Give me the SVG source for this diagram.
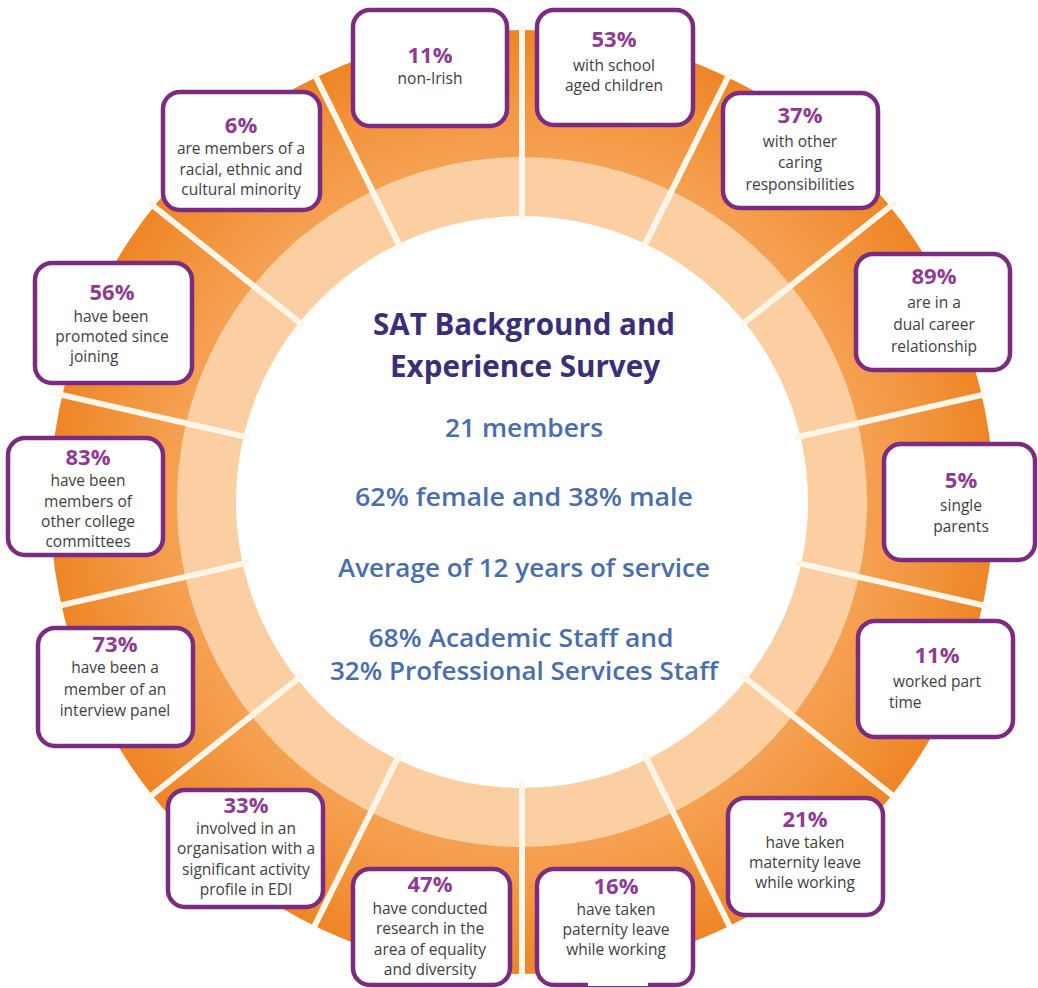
<svg xmlns="http://www.w3.org/2000/svg" width="1038" height="988" viewBox="0 0 1038 988">
<defs>
<radialGradient id="gDark" gradientUnits="userSpaceOnUse" cx="522" cy="502" r="472">
<stop offset="0.73" stop-color="#F5A152"/>
<stop offset="0.86" stop-color="#F2953E"/>
<stop offset="1" stop-color="#EE8526"/>
</radialGradient>
<style>
.box rect.frame{fill:#fff;stroke:#7B2C80;stroke-width:4.5}
.patch{fill:#fff}
text{font-family:"Open Sans","Liberation Sans",sans-serif;text-anchor:middle}
.pct{font-weight:700;font-size:22px;fill:#8E3C92}
.desc{font-size:15.5px;fill:#3E3E3E}
.title{font-weight:700;font-size:30px;fill:#3A2E78}
.stat{font-weight:600;font-size:25px;fill:#4A6DAE}
.div{stroke:#FFF6EA;stroke-width:6;stroke-linecap:butt}
</style>
</defs>
<rect width="1038" height="988" fill="#fff"/>
<g id="ring">
<circle cx="522" cy="502" r="472" fill="url(#gDark)"/>
<circle cx="522" cy="502" r="345" fill="#FBCFA1"/>
<circle cx="522" cy="502" r="286" fill="#fff"/>
</g>
<g id="connectors">
<line class="div" x1="522" y1="220" x2="522" y2="26"/>
<line class="div" x1="643.5" y1="247.7" x2="729.8" y2="73.4"/>
<line class="div" x1="740.9" y1="325.4" x2="895.7" y2="202.0"/>
<line class="div" x1="795" y1="437.7" x2="989" y2="393.4"/>
<line class="div" x1="795" y1="562.3" x2="989" y2="606.6"/>
<line class="div" x1="740.9" y1="674.6" x2="895.7" y2="798.0"/>
<line class="div" x1="643.5" y1="752.3" x2="729.8" y2="926.6"/>
<line class="div" x1="522" y1="780" x2="522" y2="980"/>
<line class="div" x1="400.5" y1="752.3" x2="314.2" y2="926.6"/>
<line class="div" x1="303.1" y1="674.6" x2="148.3" y2="798.0"/>
<line class="div" x1="249" y1="562.3" x2="55" y2="606.6"/>
<line class="div" x1="249" y1="437.7" x2="55" y2="393.4"/>
<line class="div" x1="303.1" y1="325.4" x2="148.3" y2="202.0"/>
<line class="div" x1="400.5" y1="247.7" x2="314.2" y2="73.4"/>
</g>
<g id="center">
<text class="title" x="524" y="335" textLength="302" lengthAdjust="spacingAndGlyphs">SAT Background and</text>
<text class="title" x="525" y="377" textLength="270" lengthAdjust="spacingAndGlyphs">Experience Survey</text>
<text class="stat" x="524" y="437" textLength="158" lengthAdjust="spacingAndGlyphs">21 members</text>
<text class="stat" x="524" y="506" textLength="338" lengthAdjust="spacingAndGlyphs">62% female and 38% male</text>
<text class="stat" x="524" y="577" textLength="372" lengthAdjust="spacingAndGlyphs">Average of 12 years of service</text>
<text class="stat" x="521" y="647" textLength="305" lengthAdjust="spacingAndGlyphs">68% Academic Staff and</text>
<text class="stat" x="524" y="680" textLength="388" lengthAdjust="spacingAndGlyphs">32% Professional Services Staff</text>
</g>
<g id="box-non-irish" class="box">
<rect class="frame" x="353" y="10" width="154" height="116" rx="17"/>
<text class="pct" x="430" y="63">11%</text>
<text class="desc" x="430" y="84">non-Irish</text>
</g>
<g id="box-school-children" class="box">
<rect class="frame" x="537" y="10" width="156" height="115" rx="17"/>
<text class="pct" x="614" y="47">53%</text>
<text class="desc" x="614" y="71">with school</text>
<text class="desc" x="614" y="91">aged children</text>
</g>
<g id="box-caring" class="box">
<rect class="frame" x="723" y="93" width="155" height="115" rx="17"/>
<text class="pct" x="800" y="123">37%</text>
<text class="desc" x="800" y="147">with other</text>
<text class="desc" x="800" y="168">caring</text>
<text class="desc" x="800" y="190">responsibilities</text>
</g>
<g id="box-dual-career" class="box">
<rect class="frame" x="856" y="254" width="154" height="116" rx="17"/>
<text class="pct" x="934" y="284">89%</text>
<text class="desc" x="934" y="308">are in a</text>
<text class="desc" x="934" y="330">dual career</text>
<text class="desc" x="934" y="352">relationship</text>
</g>
<g id="box-single-parents" class="box">
<rect class="frame" x="884" y="444" width="151" height="116" rx="17"/>
<text class="pct" x="961" y="488">5%</text>
<text class="desc" x="961" y="511">single</text>
<text class="desc" x="961" y="532">parents</text>
</g>
<g id="box-part-time" class="box">
<rect class="frame" x="858" y="621" width="155" height="116" rx="17"/>
<text class="pct" x="937" y="663">11%</text>
<text class="desc" x="937" y="687">worked part</text>
<text class="desc" x="889" y="708" style="text-anchor:start">time</text>
</g>
<g id="box-maternity" class="box">
<rect class="frame" x="728" y="798" width="155" height="117" rx="17"/>
<text class="pct" x="805" y="827">21%</text>
<text class="desc" x="805" y="848">have taken</text>
<text class="desc" x="805" y="868">maternity leave</text>
<text class="desc" x="805" y="888">while working</text>
</g>
<g id="box-paternity" class="box">
<rect class="frame" x="537" y="869" width="156" height="116" rx="17"/>
<text class="pct" x="616" y="894">16%</text>
<text class="desc" x="616" y="915">have taken</text>
<text class="desc" x="616" y="935">paternity leave</text>
<text class="desc" x="616" y="955">while working</text>
<rect class="patch" x="588" y="968" width="60" height="18"/>
</g>
<g id="box-research" class="box">
<rect class="frame" x="353" y="869" width="157" height="116" rx="17"/>
<text class="pct" x="430" y="892">47%</text>
<text class="desc" x="430" y="914">have conducted</text>
<text class="desc" x="430" y="934">research in the</text>
<text class="desc" x="430" y="955">area of equality</text>
<text class="desc" x="430" y="975">and diversity</text>
</g>
<g id="box-edi" class="box">
<rect class="frame" x="168" y="790" width="155" height="117" rx="17"/>
<text class="pct" x="246" y="813">33%</text>
<text class="desc" x="246" y="834">involved in an</text>
<text class="desc" x="246" y="854">organisation with a</text>
<text class="desc" x="246" y="875">significant activity</text>
<text class="desc" x="246" y="895">profile in EDI</text>
</g>
<g id="box-interview" class="box">
<rect class="frame" x="38" y="628" width="155" height="118" rx="17"/>
<text class="pct" x="115" y="652">73%</text>
<text class="desc" x="115" y="673">have been a</text>
<text class="desc" x="115" y="695">member of an</text>
<text class="desc" x="115" y="716">interview panel</text>
</g>
<g id="box-committees" class="box">
<rect class="frame" x="8" y="438" width="155" height="117" rx="17"/>
<text class="pct" x="88" y="465">83%</text>
<text class="desc" x="88" y="486">have been</text>
<text class="desc" x="88" y="507">members of</text>
<text class="desc" x="88" y="527">other college</text>
<text class="desc" x="88" y="547">committees</text>
</g>
<g id="box-promoted" class="box">
<rect class="frame" x="35" y="263" width="157" height="120" rx="17"/>
<text class="pct" x="112" y="300">56%</text>
<text class="desc" x="111" y="322">have been</text>
<text class="desc" x="112" y="342">promoted since</text>
<text class="desc" x="70" y="362" style="text-anchor:start">joining</text>
<rect class="patch" x="123" y="345" width="66" height="27"/>
</g>
<g id="box-minority" class="box">
<rect class="frame" x="163" y="92" width="157" height="118" rx="17"/>
<text class="pct" x="241" y="133">6%</text>
<text class="desc" x="241" y="154">are members of a</text>
<text class="desc" x="241" y="175">racial, ethnic and</text>
<text class="desc" x="241" y="195">cultural minority</text>
</g>
</svg>
